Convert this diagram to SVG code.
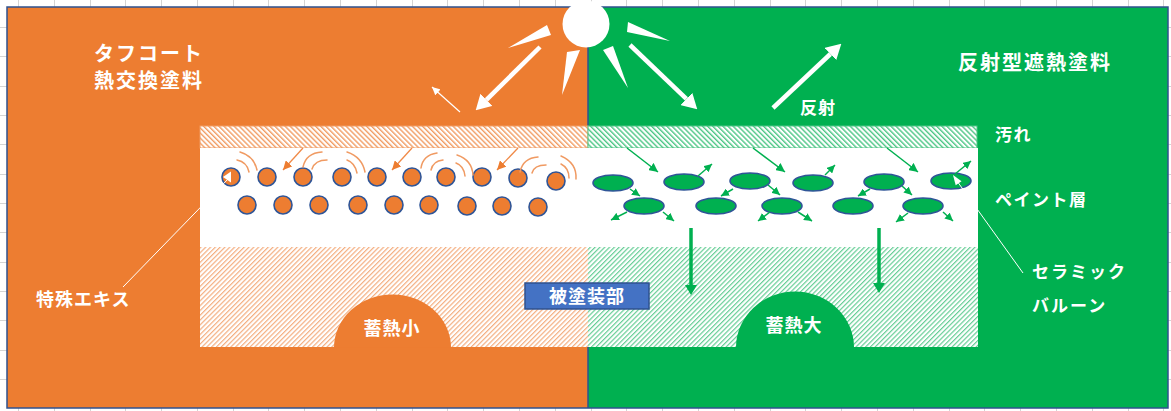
<svg xmlns="http://www.w3.org/2000/svg" width="1171" height="411" viewBox="0 0 1171 411">
  <style>
    .lbl { font-family: "Noto Sans CJK JP", "Noto Sans", sans-serif; font-weight: bold; fill: #ffffff; }
    .big { font-size: 20px; letter-spacing: 2px; }
    .mid { font-size: 17px; letter-spacing: 1.5px; }
    .wave { fill: none; stroke: #F09A62; stroke-width: 1.5; stroke-linecap: round; }
    .orb { fill: #ED7D31; stroke: #2F5597; stroke-width: 1.6; }
    .cell { fill: #00B050; stroke: #2F5597; stroke-width: 1.6; }
    .oarr { stroke: #F08A48; stroke-width: 1.3; marker-end: url(#hOr); }
    .garr { stroke: #00B050; stroke-width: 1.5; marker-end: url(#hGr); }
    .gsm { stroke: #00B050; stroke-width: 1.5; marker-end: url(#hGrSm); }
    .warr { stroke: #ffffff; stroke-width: 4.5; marker-end: url(#hWh); }
    .gdown { stroke: #00B050; stroke-width: 3.5; marker-end: url(#hGrBig); }
  </style>
  <defs>
    <pattern id="hatchOrTop" patternUnits="userSpaceOnUse" width="3.6" height="10" patternTransform="rotate(-45)">
      <rect width="3.6" height="10" fill="#ffffff"/>
      <rect x="0" y="0" width="1.4" height="10" fill="#F19C63"/>
    </pattern>
    <pattern id="hatchGrTop" patternUnits="userSpaceOnUse" width="3.6" height="10" patternTransform="rotate(-45)">
      <rect width="3.6" height="10" fill="#ffffff"/>
      <rect x="0" y="0" width="1.4" height="10" fill="#4CC685"/>
    </pattern>
    <pattern id="hatchOrBot" patternUnits="userSpaceOnUse" width="3.4" height="10" patternTransform="rotate(45)">
      <rect width="3.4" height="10" fill="#ffffff"/>
      <rect x="0" y="0" width="1.2" height="10" fill="#F4AE80"/>
    </pattern>
    <pattern id="hatchGrBot" patternUnits="userSpaceOnUse" width="3.4" height="10" patternTransform="rotate(45)">
      <rect width="3.4" height="10" fill="#ffffff"/>
      <rect x="0" y="0" width="1.2" height="10" fill="#66CE96"/>
    </pattern>
    <marker id="hWh" viewBox="0 0 10 10" refX="0" refY="5" markerWidth="15" markerHeight="17" markerUnits="userSpaceOnUse" orient="auto" preserveAspectRatio="none">
      <path d="M0,0 L10,5 L0,10 Z" fill="#ffffff"/>
    </marker>
    <marker id="hWhSm" viewBox="0 0 10 10" refX="10" refY="5" markerWidth="8" markerHeight="8" markerUnits="userSpaceOnUse" orient="auto">
      <path d="M0,0 L10,5 L0,10 Z" fill="#ffffff"/>
    </marker>
    <marker id="hOr" viewBox="0 0 10 10" refX="10" refY="5" markerWidth="9" markerHeight="9" markerUnits="userSpaceOnUse" orient="auto">
      <path d="M0,0 L10,5 L0,10 Z" fill="#ED7D31"/>
    </marker>
    <marker id="hGr" viewBox="0 0 10 10" refX="10" refY="5" markerWidth="9" markerHeight="9" markerUnits="userSpaceOnUse" orient="auto">
      <path d="M0,0 L10,5 L0,10 Z" fill="#00B050"/>
    </marker>
    <marker id="hGrSm" viewBox="0 0 10 10" refX="10" refY="5" markerWidth="8" markerHeight="8" markerUnits="userSpaceOnUse" orient="auto">
      <path d="M0,0 L10,5 L0,10 Z" fill="#00B050"/>
    </marker>
    <marker id="hGrBig" viewBox="0 0 10 10" refX="0" refY="5" markerWidth="10" markerHeight="12" markerUnits="userSpaceOnUse" orient="auto" preserveAspectRatio="none">
      <path d="M0,0 L10,5 L0,10 Z" fill="#00B050"/>
    </marker>
  </defs>

  <!-- sheet background with cell grid -->
  <rect width="1171" height="411" fill="#ffffff"/>
  <path stroke="#D4D4D4" stroke-width="1" fill="none"
        d="M18.5,0V411 M54.5,0V411 M90.5,0V411 M125.5,0V411 M161.5,0V411 M197.5,0V411 M233.5,0V411 M268.5,0V411 M304.5,0V411 M340.5,0V411 M376.5,0V411 M412.5,0V411 M447.5,0V411 M483.5,0V411 M519.5,0V411 M555.5,0V411 M591.5,0V411 M626.5,0V411 M662.5,0V411 M698.5,0V411 M734.5,0V411 M770.5,0V411 M805.5,0V411 M841.5,0V411 M877.5,0V411 M913.5,0V411 M949.5,0V411 M984.5,0V411 M1020.5,0V411 M1056.5,0V411 M1092.5,0V411 M1128.5,0V411 M1163.5,0V411
           M0,27.5H1171 M0,56.5H1171 M0,86.5H1171 M0,115.5H1171 M0,144.5H1171 M0,174.5H1171 M0,203.5H1171 M0,232.5H1171 M0,262.5H1171 M0,291.5H1171 M0,320.5H1171 M0,350.5H1171 M0,379.5H1171"/>

  <!-- two halves -->
  <g id="panel-left">
    <rect x="7" y="7" width="581" height="401" fill="#ED7D31"/>
  </g>
  <g id="panel-right">
    <rect x="588" y="7" width="580" height="401" fill="#00B050"/>
  </g>
  <rect x="7" y="7" width="1161" height="401" fill="none" stroke="#2F528F" stroke-width="1.5"/>
  <line x1="588" y1="7" x2="588" y2="408" stroke="#2F528F" stroke-width="1.5"/>

  <!-- sun -->
  <g id="sun" fill="#ffffff">
    <circle cx="586" cy="24" r="23.5"/>
    <polygon points="508,48 547,25 551,35"/>
    <polygon points="567,52 580,50 562,95"/>
    <polygon points="603,50 613,46 628,88"/>
    <polygon points="628,22 627,32 670,41"/>
  </g>

  <!-- layered section -->
  <g id="dirt-layer">
    <rect x="200" y="126" width="388" height="22" fill="url(#hatchOrTop)" stroke="#F19C63" stroke-width="1"/>
    <rect x="588" y="126" width="389" height="22" fill="url(#hatchGrTop)" stroke="#4CC685" stroke-width="1"/>
  </g>
  <g id="paint-layer">
    <rect x="200" y="148" width="778" height="99" fill="#ffffff"/>
  </g>
  <g id="substrate">
    <rect x="200" y="247" width="388" height="100" fill="url(#hatchOrBot)"/>
    <rect x="588" y="247" width="390" height="100" fill="url(#hatchGrBot)"/>
  </g>

  <!-- heat storage domes -->
  <g id="heat-small">
    <path d="M334,347.5 A58.5,53 0 0 1 451,347.5 Z" fill="#ED7D31"/>
    <text class="lbl" x="392" y="335" font-size="18" letter-spacing="1" text-anchor="middle">蓄熱小</text>
  </g>
  <g id="heat-large">
    <path d="M736,347.5 A59,56 0 0 1 854,347.5 Z" fill="#00B050"/>
    <text class="lbl" x="794" y="332" font-size="18" letter-spacing="1" text-anchor="middle">蓄熱大</text>
  </g>

  <!-- substrate tag -->
  <g id="substrate-tag">
    <rect x="525" y="283" width="124" height="26" fill="#4472C4" stroke="#2F528F" stroke-width="1.5"/>
    <text class="lbl" x="587" y="303" font-size="18" letter-spacing="1" text-anchor="middle">被塗装部</text>
  </g>

  <!-- special extract spheres -->
  <g id="extract-spheres">
    <circle class="orb" cx="231" cy="177" r="9"/>
    <circle class="orb" cx="267" cy="177" r="9"/>
    <circle class="orb" cx="303" cy="177" r="9"/>
    <circle class="orb" cx="342" cy="177" r="9"/>
    <circle class="orb" cx="377" cy="177" r="9"/>
    <circle class="orb" cx="412" cy="177" r="9"/>
    <circle class="orb" cx="446" cy="177" r="9"/>
    <circle class="orb" cx="482" cy="177" r="9"/>
    <circle class="orb" cx="518" cy="178" r="9"/>
    <circle class="orb" cx="556" cy="181" r="9"/>
    <circle class="orb" cx="247" cy="205" r="9"/>
    <circle class="orb" cx="283" cy="205" r="9"/>
    <circle class="orb" cx="319" cy="205" r="9"/>
    <circle class="orb" cx="358" cy="205" r="9"/>
    <circle class="orb" cx="394" cy="205" r="9"/>
    <circle class="orb" cx="429" cy="205" r="9"/>
    <circle class="orb" cx="467" cy="206" r="9"/>
    <circle class="orb" cx="502" cy="206" r="9"/>
    <circle class="orb" cx="538" cy="207" r="9"/>
  </g>

  <!-- radiated heat waves -->
  <g id="heat-waves">
    <path class="wave" d="M240,152 Q254,156 257,170"/>
    <path class="wave" d="M237,160 Q247,162 249,172"/>
    <path class="wave" d="M303,167 Q306,153 322,152"/>
    <path class="wave" d="M312,169 Q315,160 327,160"/>
    <path class="wave" d="M347,152 Q362,157 365,172"/>
    <path class="wave" d="M347,160 Q355,163 357,173"/>
    <path class="wave" d="M421,168 Q423,155 437,153"/>
    <path class="wave" d="M431,170 Q433,161 443,160"/>
    <path class="wave" d="M457,155 Q472,160 473,175"/>
    <path class="wave" d="M456,163 Q464,166 465,176"/>
    <path class="wave" d="M520,172 Q523,158 538,157"/>
    <path class="wave" d="M532,173 Q534,165 546,165"/>
    <path class="wave" d="M561,156 Q577,163 576,179"/>
    <path class="wave" d="M561,164 Q569,168 569,178"/>
  </g>

  <!-- ceramic balloons -->
  <g id="ceramic-balloons">
    <ellipse class="cell" cx="613" cy="183" rx="20" ry="8"/>
    <ellipse class="cell" cx="684" cy="182" rx="20" ry="8"/>
    <ellipse class="cell" cx="750" cy="181" rx="20" ry="8"/>
    <ellipse class="cell" cx="813" cy="183" rx="20" ry="8"/>
    <ellipse class="cell" cx="884" cy="182" rx="20" ry="8"/>
    <ellipse class="cell" cx="951" cy="181" rx="20" ry="8"/>
    <ellipse class="cell" cx="644" cy="206" rx="20" ry="8"/>
    <ellipse class="cell" cx="716" cy="206" rx="20" ry="8"/>
    <ellipse class="cell" cx="782" cy="206" rx="20" ry="8"/>
    <ellipse class="cell" cx="853" cy="206" rx="20" ry="8"/>
    <ellipse class="cell" cx="923" cy="206" rx="20" ry="8"/>
  </g>

  <!-- connectors and arrows -->
  <g id="connectors" fill="none">
    <!-- sunlight and reflection -->
    <line class="warr" x1="540" y1="47" x2="486.4" y2="99.8"/>
    <line class="warr" x1="630" y1="45" x2="686.4" y2="98.9"/>
    <line class="warr" x1="773" y1="108" x2="830.4" y2="54"/>
    <line x1="460" y1="112" x2="432" y2="87" stroke="#ffffff" stroke-width="1.2" marker-end="url(#hWhSm)"/>

    <!-- heat entering the tough coat -->
    <line class="oarr" x1="303" y1="148" x2="283" y2="170"/>
    <line class="oarr" x1="412" y1="148" x2="392" y2="170"/>
    <line class="oarr" x1="518" y1="148" x2="497" y2="170"/>

    <!-- heat entering the reflective coat -->
    <line class="garr" x1="627" y1="148" x2="658" y2="172"/>
    <line class="garr" x1="753" y1="148" x2="785" y2="172"/>
    <line class="garr" x1="887" y1="148" x2="918" y2="172"/>

    <!-- scattering off the balloons -->
    <line class="gsm" x1="698" y1="176" x2="712" y2="164"/>
    <line class="gsm" x1="825" y1="175" x2="835" y2="165"/>
    <line class="gsm" x1="955" y1="174" x2="971" y2="161"/>
    <line class="gsm" x1="630" y1="189" x2="640" y2="196"/>
    <line class="gsm" x1="733" y1="189" x2="721" y2="196"/>
    <line class="gsm" x1="768" y1="185" x2="780" y2="195"/>
    <line class="gsm" x1="870" y1="189" x2="858" y2="196"/>
    <line class="gsm" x1="902" y1="186" x2="912" y2="195"/>
    <line class="gsm" x1="627" y1="212" x2="611" y2="220"/>
    <line class="gsm" x1="663" y1="212" x2="674" y2="221"/>
    <line class="gsm" x1="770" y1="212" x2="758" y2="221"/>
    <line class="gsm" x1="798" y1="212" x2="812" y2="221"/>
    <line class="gsm" x1="908" y1="213" x2="896" y2="222"/>
    <line class="gsm" x1="943" y1="212" x2="953" y2="221"/>

    <!-- heat reaching the substrate -->
    <line class="gdown" x1="691" y1="228" x2="691" y2="285"/>
    <line class="gdown" x1="879" y1="228" x2="879" y2="283"/>

    <!-- callout leaders -->
    <line x1="123" y1="287" x2="229" y2="178" stroke="#ffffff" stroke-width="1"/>
    <polygon points="223,177 231,171.5 231,182.5" fill="#ffffff"/>
    <line x1="1023" y1="273" x2="957" y2="181" stroke="#ffffff" stroke-width="1"/>
    <polygon points="953,175 961.5,181.3 955.7,185.3" fill="#ffffff"/>
  </g>

  <!-- captions -->
  <g id="title-left">
    <text class="lbl big" x="94" y="61">タフコート</text>
    <text class="lbl big" x="94" y="88">熱交換塗料</text>
  </g>
  <g id="title-right">
    <text class="lbl big" x="958" y="70" letter-spacing="2.5">反射型遮熱塗料</text>
  </g>
  <g id="label-reflect">
    <text class="lbl" x="800" y="114" font-size="17" letter-spacing="1">反射</text>
  </g>
  <g id="label-dirt">
    <text class="lbl mid" x="995" y="141">汚れ</text>
  </g>
  <g id="label-paint">
    <text class="lbl mid" x="995" y="206">ペイント層</text>
  </g>
  <g id="label-balloon">
    <text class="lbl" x="1032" y="278" font-size="17" letter-spacing="2">セラミック</text>
    <text class="lbl" x="1032" y="312" font-size="17" letter-spacing="2">バルーン</text>
  </g>
  <g id="label-extract">
    <text class="lbl" x="36" y="306" font-size="18" letter-spacing="1">特殊エキス</text>
  </g>
</svg>
